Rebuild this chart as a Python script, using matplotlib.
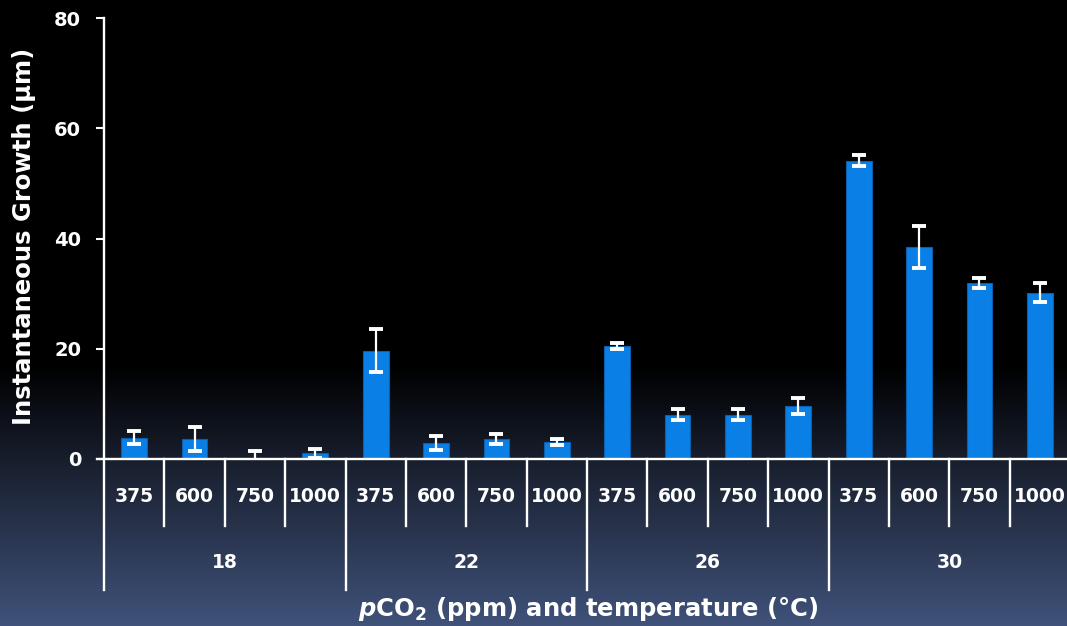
import numpy as np
import matplotlib
matplotlib.use("Agg")
import matplotlib.pyplot as plt

# Instantaneous growth by pCO2 level within each temperature
temperatures = ["18", "22", "26", "30"]
pco2_levels = ["375", "600", "750", "1000"]
growth = [3.9, 3.6, 0.2, 1.0,
          19.6, 2.9, 3.6, 3.1,
          20.5, 8.0, 8.0, 9.6,
          54.1, 38.5, 32.0, 30.2]
growth_err = [1.1, 2.2, 1.3, 0.9,
              3.9, 1.3, 0.9, 0.5,
              0.6, 1.0, 1.0, 1.5,
              1.0, 3.8, 0.9, 1.7]
y_ticks = [0, 20, 40, 60, 80]

plt.rcParams['font.family'] = ['DejaVu Sans']
plt.rcParams['font.weight'] = 'bold'
plt.rcParams['mathtext.fontset'] = 'custom'
plt.rcParams['mathtext.rm'] = 'DejaVu Sans:bold'
plt.rcParams['mathtext.it'] = 'DejaVu Sans:bold:italic'
plt.rcParams['mathtext.bf'] = 'DejaVu Sans:bold'

W, H = 1067, 626
fig = plt.figure(figsize=(W / 100, H / 100), dpi=100)

# gradient background: black on top, fading to slate blue at the bottom
bg = fig.add_axes([0, 0, 1, 1], zorder=0)
bg.set_axis_off()
rows = np.linspace(0, 1, 400)  # 0 = top, 1 = bottom
start = 365 / H
frac = np.clip((rows - start) / (1 - start), 0, 1)
bottom_rgb = np.array([64, 82, 122]) / 255.0
grad = frac[:, None] * bottom_rgb[None, :]
img = np.repeat(grad[:, None, :], 2, axis=1)
bg.imshow(img, aspect='auto', extent=[0, 1, 0, 1], origin='upper')
bg.set_xlim(0, 1)
bg.set_ylim(0, 1)

ax_left, ax_right = 104 / W, 1070 / W
ax_bottom, ax_top = (H - 459) / H, (H - 18) / H
ax = fig.add_axes([ax_left, ax_bottom, ax_right - ax_left, ax_top - ax_bottom], zorder=1)
ax.set_facecolor('none')

n = len(growth)
x = np.arange(n)
ax.bar(x, growth, width=0.425, color='#0a7fe6', edgecolor='#0b5fae', linewidth=0.8, zorder=2)
ax.errorbar(x, growth, yerr=growth_err, fmt='none', ecolor='white',
            elinewidth=1.6, capsize=4.8, capthick=2.8, zorder=3)

ax.set_xlim(-0.5, n - 0.5)
ax.set_ylim(0, 80)
ax.set_yticks(y_ticks)
ax.set_yticklabels([str(t) for t in y_ticks])
ax.tick_params(axis='y', colors='white', length=5.5, width=1.5, pad=11, labelsize=14)
ax.set_xticks([])
for s in ax.spines.values():
    s.set_visible(False)

trans = ax.get_xaxis_transform()
lw = 1.7
# axis lines
ax.plot([-0.5, -0.5], [1.0, -0.297], transform=trans, color='white', lw=lw, clip_on=False, zorder=4)
ax.plot([-0.62, n - 0.5], [0, 0], transform=trans, color='white', lw=lw, clip_on=False, zorder=4)

# category and group separators
for i in range(1, n + 1):
    xs = i - 0.5
    depth = -0.297 if i % len(pco2_levels) == 0 else -0.152
    ax.plot([xs, xs], [0, depth], transform=trans, color='white', lw=lw, clip_on=False, zorder=4)

# pCO2 labels and temperature labels
for i in range(n):
    ax.text(i, -0.086, pco2_levels[i % len(pco2_levels)], transform=trans, ha='center', va='center',
            color='white', fontsize=13.5, fontweight='bold')
for g, t in enumerate(temperatures):
    gx = g * len(pco2_levels) + (len(pco2_levels) - 1) / 2
    ax.text(gx, -0.234, t, transform=trans, ha='center', va='center',
            color='white', fontsize=13.5, fontweight='bold')

fig.text(24 / W, 1 - 236 / H, 'Instantaneous Growth (µm)', rotation=90, ha='center', va='center',
         color='white', fontsize=17.5, fontweight='bold')
fig.text(588 / W, 1 - 609 / H, r'$\it{p}$CO$_\mathrm{2}$ (ppm) and temperature (°C)',
         ha='center', va='center', color='white', fontsize=17.5, fontweight='bold')

fig.savefig('out.png', dpi=100)
